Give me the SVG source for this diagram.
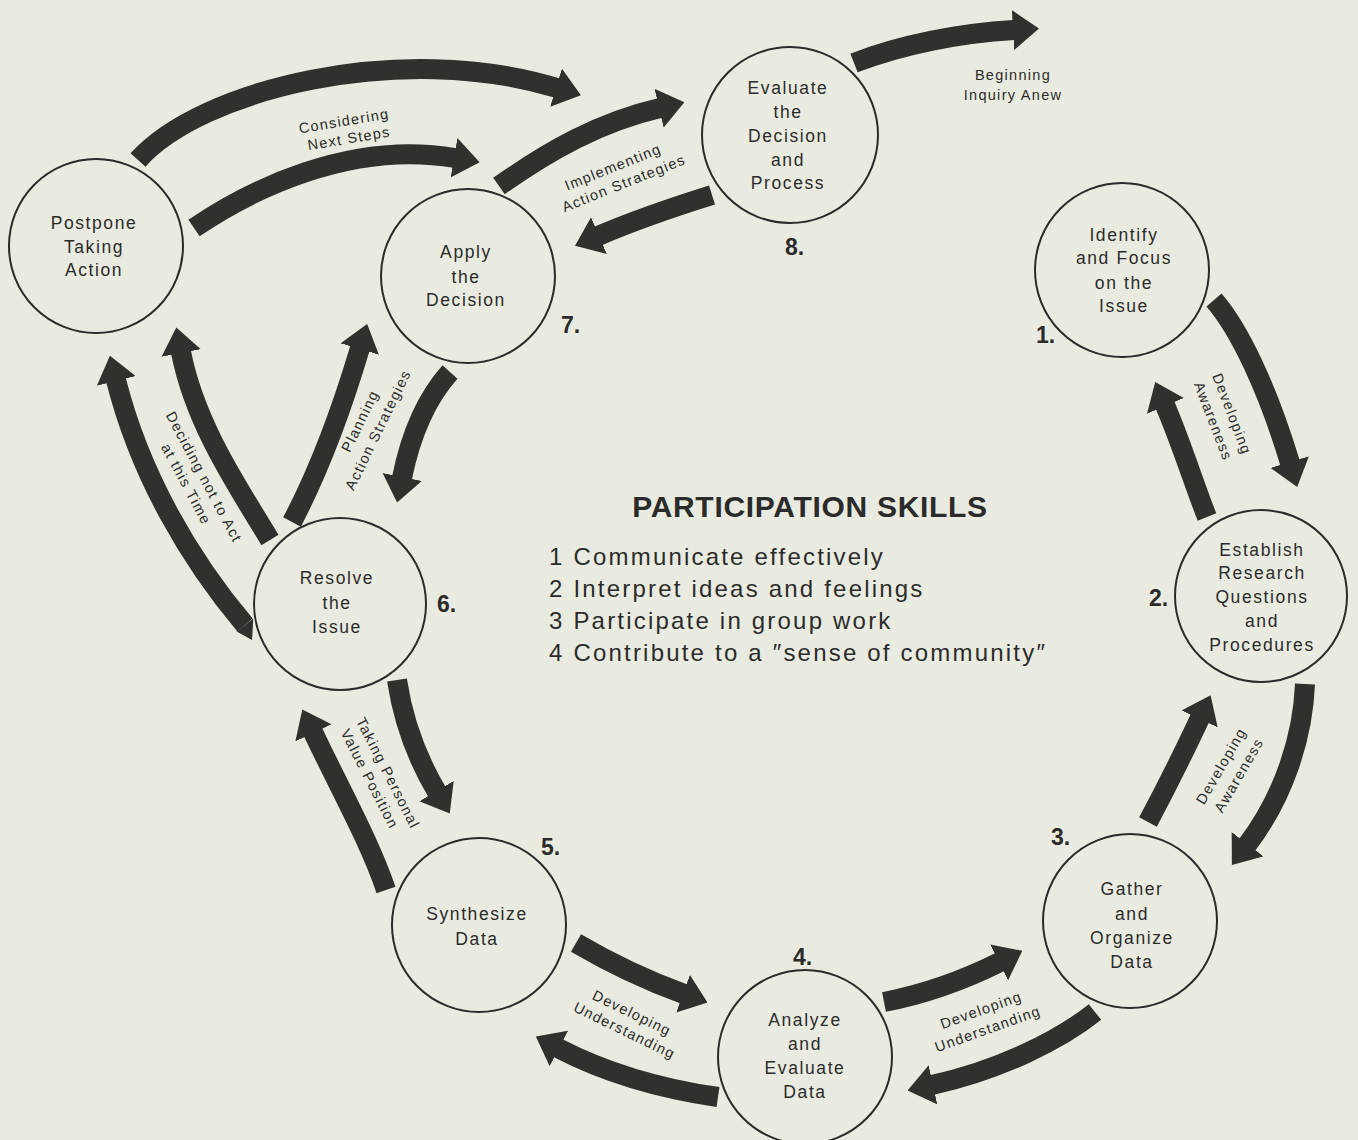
<svg xmlns="http://www.w3.org/2000/svg" width="1358" height="1140" viewBox="0 0 1358 1140">
  <defs>
    <marker id="head" markerUnits="userSpaceOnUse" viewBox="0 0 26 40" markerWidth="26" markerHeight="40" refX="1" refY="20" orient="auto">
      <path d="M0,0 L26,20 L0,40 Z" fill="#30302d"/>
    </marker>
    <style>
      .bg { fill: #e9ebe0; }
      .node circle { fill: none; stroke: #2b2b2b; stroke-width: 2; }
      .node text { font-family: "Liberation Sans", Arial, sans-serif; font-size: 17.5px; fill: #2b2b2b; text-anchor: middle; letter-spacing: 1.6px; }
      .node text.num { font-size: 23px; font-weight: bold; text-anchor: start; letter-spacing: 0; }
      .arrows path { fill: none; stroke: #30302d; stroke-width: 20; stroke-linecap: butt; marker-end: url(#head); }
      .arrows polygon { fill: #30302d; }
      .lbl { font-family: "Liberation Sans", Arial, sans-serif; font-size: 14.5px; fill: #2b2b2b; text-anchor: middle; letter-spacing: 1.3px; }
      .title { font-family: "Liberation Sans", Arial, sans-serif; font-size: 30px; font-weight: bold; fill: #2b2b2b; text-anchor: middle; letter-spacing: 0.7px; }
      .skill { font-family: "Liberation Sans", Arial, sans-serif; font-size: 24px; fill: #2b2b2b; letter-spacing: 2.2px; }
    </style>
  </defs>
  <rect class="bg" x="0" y="0" width="1358" height="1140"/>

  <!-- connectors: thick curved bands, each ending in a head marker -->
  <g id="connectors" class="arrows">
    <path d="M138,160 C200,90 400,40 557,88"/>
    <path d="M194,228 C250,190 350,140 455,158"/>
    <path d="M499,186 C550,150 600,122 660,108"/>
    <path d="M712,195 C680,205 640,218 598,236"/>
    <path d="M854,63 C900,45 960,33 1014,30"/>
    <path d="M1214,300 C1240,330 1268,390 1290,463"/>
    <path d="M1207,517 C1195,487 1182,445 1165,405"/>
    <path d="M1305,684 C1303,735 1285,795 1247,845"/>
    <path d="M1148,822 C1165,790 1185,750 1200,718"/>
    <path d="M884,1002 C920,995 960,982 1000,962"/>
    <path d="M1095,1012 C1060,1040 1000,1070 932,1085"/>
    <path d="M576,943 C605,960 640,978 684,994"/>
    <path d="M718,1097 C670,1090 610,1075 558,1048"/>
    <path d="M397,680 C403,720 418,760 437,792"/>
    <path d="M386,890 C370,842 338,785 313,732"/>
    <path d="M450,372 C425,400 410,438 402,478"/>
    <path d="M292,522 C322,465 343,405 360,348"/>
    <path d="M270,540 C240,490 195,425 181,352"/>
    <path d="M245,625 C190,560 140,475 116,380"/>
    <!-- pointed tail of the outer "Deciding not to Act" band -->
    <polygon points="253.3,618.4 236.7,631.6 252,640"/>
  </g>

  <!-- connector labels -->
  <g id="labels">
    <g transform="translate(344,121) rotate(-9.6)"><text class="lbl" y="5">Considering</text><text class="lbl" x="2" y="23">Next Steps</text></g>
    <g transform="translate(613,167) rotate(-21.8)"><text class="lbl" y="5">Implementing</text><text class="lbl" x="4" y="24">Action Strategies</text></g>
    <text class="lbl" x="1013" y="80">Beginning</text>
    <text class="lbl" x="1013" y="100">Inquiry Anew</text>
    <g transform="translate(1232,414) rotate(69)"><text class="lbl" y="5">Developing</text><text class="lbl" y="25">Awareness</text></g>
    <g transform="translate(1221,766) rotate(-60)"><text class="lbl" y="5">Developing</text><text class="lbl" x="1" y="25">Awareness</text></g>
    <g transform="translate(981,1010) rotate(-19.7)"><text class="lbl" y="5">Developing</text><text class="lbl" y="25">Understanding</text></g>
    <g transform="translate(632,1013) rotate(26)"><text class="lbl" y="5">Developing</text><text class="lbl" x="1" y="24">Understanding</text></g>
    <g transform="translate(388,773) rotate(63)"><text class="lbl" y="5">Taking Personal</text><text class="lbl" x="-3" y="24">Value Position</text></g>
    <g transform="translate(360,421) rotate(-64)"><text class="lbl" y="5">Planning</text><text class="lbl" y="25">Action Strategies</text></g>
    <g transform="translate(204,477) rotate(62)"><text class="lbl" y="5">Deciding not to Act</text><text class="lbl" x="-2" y="24">at this Time</text></g>
  </g>

  <!-- nodes -->
  <g id="postpone" class="node">
    <circle cx="96" cy="246" r="87"/>
    <text x="94" y="229">Postpone</text><text x="94" y="253">Taking</text><text x="94" y="276">Action</text>
  </g>
  <g id="apply" class="node">
    <circle cx="468" cy="276" r="87"/>
    <text x="466" y="258">Apply</text><text x="466" y="283">the</text><text x="466" y="306">Decision</text>
    <text class="num" x="561" y="333">7.</text>
  </g>
  <g id="evaluate" class="node">
    <circle cx="790" cy="135" r="88"/>
    <text x="788" y="94">Evaluate</text><text x="788" y="118">the</text><text x="788" y="142">Decision</text><text x="788" y="166">and</text><text x="788" y="189">Process</text>
    <text class="num" x="785" y="255">8.</text>
  </g>
  <g id="identify" class="node">
    <circle cx="1122" cy="270" r="87"/>
    <text x="1124" y="241">Identify</text><text x="1124" y="264">and Focus</text><text x="1124" y="289">on the</text><text x="1124" y="312">Issue</text>
    <text class="num" x="1036" y="343">1.</text>
  </g>
  <g id="establish" class="node">
    <circle cx="1261" cy="596" r="86"/>
    <text x="1262" y="556">Establish</text><text x="1262" y="579">Research</text><text x="1262" y="603">Questions</text><text x="1262" y="627">and</text><text x="1262" y="651">Procedures</text>
    <text class="num" x="1149" y="606">2.</text>
  </g>
  <g id="gather" class="node">
    <circle cx="1130" cy="921" r="87"/>
    <text x="1132" y="895">Gather</text><text x="1132" y="920">and</text><text x="1132" y="944">Organize</text><text x="1132" y="968">Data</text>
    <text class="num" x="1051" y="845">3.</text>
  </g>
  <g id="analyze" class="node">
    <circle cx="805" cy="1057" r="87"/>
    <text x="805" y="1026">Analyze</text><text x="805" y="1050">and</text><text x="805" y="1074">Evaluate</text><text x="805" y="1098">Data</text>
    <text class="num" x="793" y="965">4.</text>
  </g>
  <g id="synthesize" class="node">
    <circle cx="479" cy="925" r="87"/>
    <text x="477" y="920">Synthesize</text><text x="477" y="945">Data</text>
    <text class="num" x="541" y="855">5.</text>
  </g>
  <g id="resolve" class="node">
    <circle cx="340" cy="604" r="86"/>
    <text x="337" y="584">Resolve</text><text x="337" y="609">the</text><text x="337" y="633">Issue</text>
    <text class="num" x="437" y="612">6.</text>
  </g>

  <!-- central legend -->
  <g id="skills">
    <text class="title" x="810" y="517">PARTICIPATION SKILLS</text>
    <text class="skill" x="549" y="565">1 Communicate effectively</text>
    <text class="skill" x="549" y="597">2 Interpret ideas and feelings</text>
    <text class="skill" x="549" y="629">3 Participate in group work</text>
    <text class="skill" x="549" y="661">4 Contribute to a ″sense of community″</text>
  </g>
</svg>
